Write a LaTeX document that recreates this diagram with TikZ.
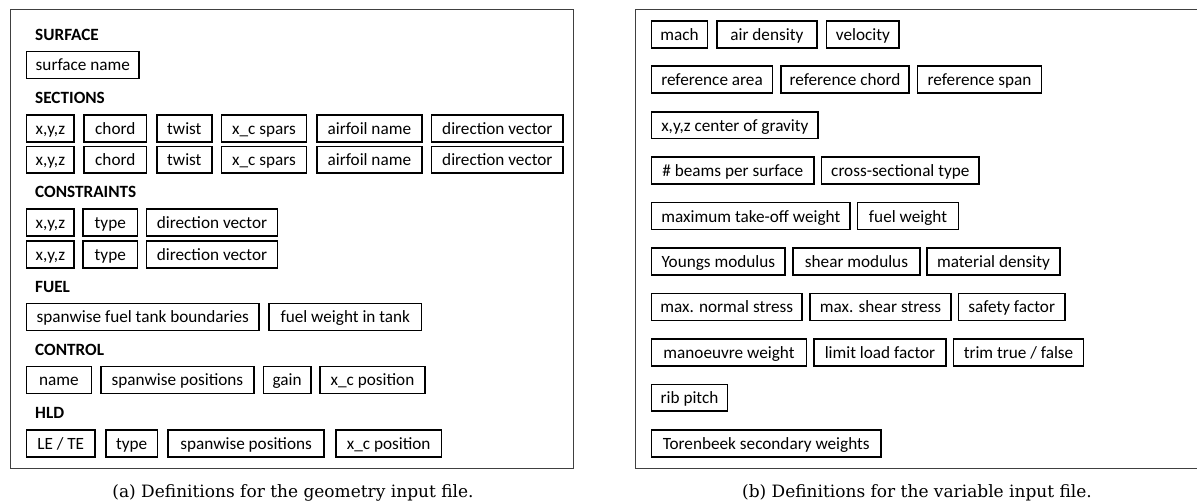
\documentclass[tikz,border=0pt]{standalone}
\usepackage{fontspec}
\setmainfont{Carlito}
\newfontfamily\capfont{DejaVu Serif}
\tikzset{
  framebox/.style={draw=black!75, line width=0.9pt},
  fieldbox/.style={draw=black, line width=1.6pt, inner xsep=0pt, inner ysep=0pt,
    minimum height=26.9pt, text height=14pt, text depth=2pt, align=center,
    font=\fontsize{17.2}{20}\selectfont},
  grouplabel/.style={anchor=base west, inner sep=0pt, font=\fontsize{17.2}{20}\selectfont\bfseries},
  captext/.style={anchor=base, inner sep=0pt, font=\capfont\fontsize{17}{20}\selectfont}
}
% #1 name, #2 left, #3 right, #4 top, #5 text
\newcommand\fbx[5]{\node[fieldbox, minimum width={(#3-#2-1.6)*1pt}] (#1) at ({(#2+#3)/2},{#4+14.25}) {#5};}
\begin{document}
\begin{tikzpicture}[x=1pt,y=-1pt]
\useasboundingbox (0,0) rectangle (1197,501);
% frames
\draw[framebox] (10,9) rectangle (573,468);
\draw[framebox] (635,9) rectangle (1199.5,468);

% ---------- left panel ----------
\node[grouplabel] (lsurf) at (35,40) {SURFACE};
\fbx{surfname}{25.7}{140}{50.7}{surface name}

\node[grouplabel] (lsect) at (35,103.3) {SECTIONS};
\fbx{sa1}{25.7}{75}{114}{x,y,z}
\fbx{sa2}{83.3}{147.3}{114}{chord}
\fbx{sa3}{156}{212.7}{114}{twist}
\fbx{sa4}{220.7}{307.3}{114}{x\_c spars}
\fbx{sa5}{316}{422.7}{114}{airfoil name}
\fbx{sa6}{430.7}{564}{114}{direction vector}
\fbx{sb1}{25.7}{75}{145.5}{x,y,z}
\fbx{sb2}{83.3}{147.3}{145.5}{chord}
\fbx{sb3}{156}{212.7}{145.5}{twist}
\fbx{sb4}{220.7}{307.3}{145.5}{x\_c spars}
\fbx{sb5}{316}{422.7}{145.5}{airfoil name}
\fbx{sb6}{430.7}{564}{145.5}{direction vector}

\node[grouplabel] (lcons) at (35,197.3) {CONSTRAINTS};
\fbx{ca1}{25.7}{75}{208}{x,y,z}
\fbx{ca2}{82.3}{138.3}{208}{type}
\fbx{ca3}{145.7}{278.3}{208}{direction vector}
\fbx{cb1}{25.7}{75}{240}{x,y,z}
\fbx{cb2}{82.3}{138.3}{240}{type}
\fbx{cb3}{145.7}{278.3}{240}{direction vector}

\node[grouplabel] (lfuel) at (35,292.3) {FUEL};
\fbx{fu1}{25.7}{260}{302.7}{spanwise fuel tank boundaries}
\fbx{fu2}{268.3}{422.3}{302.7}{fuel weight in tank}

\node[grouplabel] (lctrl) at (35,355) {CONTROL};
\fbx{ct1}{25.7}{92.3}{365.7}{name}
\fbx{ct2}{100}{255}{365.7}{spanwise positions}
\fbx{ct3}{262.7}{311.7}{365.7}{gain}
\fbx{ct4}{319}{426}{365.7}{x\_c position}

\node[grouplabel] (lhld) at (35,418.3) {HLD};
\fbx{hl1}{25.7}{95.7}{429}{LE / TE}
\fbx{hl2}{105}{158.3}{429}{type}
\fbx{hl3}{167.3}{325}{429}{spanwise positions}
\fbx{hl4}{335}{442.3}{429}{x\_c position}

% ---------- right panel ----------
\fbx{r1a}{650.7}{708.3}{20}{mach}
\fbx{r1b}{716}{817.7}{20}{air density}
\fbx{r1c}{825.7}{900}{20}{velocity}

\fbx{r2a}{650.7}{773.3}{65.4}{reference area}
\fbx{r2b}{780}{910}{65.4}{reference chord}
\fbx{r2c}{916.7}{1042.3}{65.4}{reference span}

\fbx{r3a}{650.7}{819}{110.9}{x,y,z center of gravity}

\fbx{r4a}{650.7}{815}{156.3}{\# beams per surface}
\fbx{r4b}{820.7}{980}{156.3}{cross-sectional type}

\fbx{r5a}{650.7}{851}{201.8}{maximum take-off weight}
\fbx{r5b}{856.7}{959.3}{201.8}{fuel weight}

\fbx{r6a}{650.7}{786}{247.2}{Youngs modulus}
\fbx{r6b}{792.3}{920.7}{247.2}{shear modulus}
\fbx{r6c}{926}{1061}{247.2}{material density}

\fbx{r7a}{650.7}{802.7}{292.6}{max. normal stress}
\fbx{r7b}{809.3}{951.7}{292.6}{max. shear stress}
\fbx{r7c}{957.7}{1065.7}{292.6}{safety factor}

\fbx{r8a}{650.7}{807.3}{338.1}{manoeuvre weight}
\fbx{r8b}{813.3}{946.7}{338.1}{limit load factor}
\fbx{r8c}{952.7}{1084.3}{338.1}{trim true / false}

\fbx{r9a}{650.7}{728.3}{383.5}{rib pitch}

\fbx{r10a}{650.7}{881.7}{429}{Torenbeek secondary weights}

% captions
\node[captext] (capa) at (293,497) {(a) Definitions for the geometry input file.};
\node[captext] (capb) at (917,497) {(b) Definitions for the variable input file.};
\end{tikzpicture}
\end{document}
